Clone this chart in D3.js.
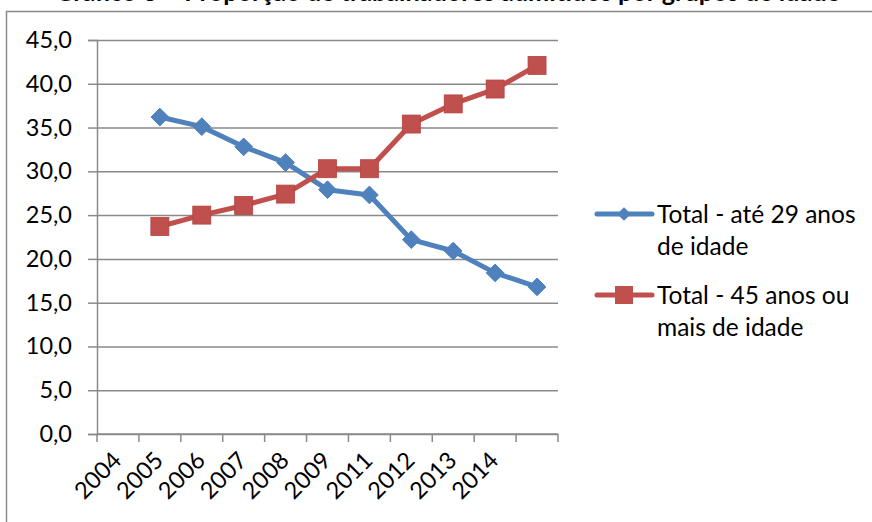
<!DOCTYPE html>
<html>
<head>
<meta charset="utf-8">
<script src="https://cdn.jsdelivr.net/npm/d3@7"></script>
<style>
  html, body { margin: 0; padding: 0; background: #fff; }
  svg { display: block; }
  text { font-family: Lato, "Noto Sans", sans-serif; fill: #000; }
</style>
</head>
<body>
<svg id="chart" width="872" height="522"></svg>
<script>
// ---- data ----
const categories = ["2004", "2005", "2006", "2007", "2008", "2009", "2011", "2012", "2013", "2014", ""];
const ate29 = [null, 36.2, 35.1, 32.8, 31.0, 27.9, 27.3, 22.2, 20.9, 18.4, 16.8];
const mais45 = [null, 23.7, 25.0, 26.1, 27.4, 30.3, 30.3, 35.4, 37.7, 39.4, 42.1];
const seriesNames = [["Total - até 29 anos", "de idade"], ["Total - 45 anos ou", "mais de idade"]];
const yTicks = [0, 5, 10, 15, 20, 25, 30, 35, 40, 45];
const title = "Gráfico 3 – Proporção de trabalhadores admitidos por grupos de idade";

// ---- layout ----
const svg = d3.select("#chart");
const W = 872, H = 522;
const plot = { left: 97, right: 558, top: 40, bottom: 434 };
const blue = "#4F81BD", red = "#C0504D", grid = "#8A8A8A";

// outer frame (chart area border)
svg.append("path")
  .attr("d", `M6.5,${H + 5} V11.5 H${W + 5}`)
  .attr("fill", "none").attr("stroke", grid).attr("stroke-width", 1.5);

// title (cut off at top, as in the reference)
svg.append("text")
  .attr("x", 55).attr("y", 1)
  .attr("font-weight", "bold").attr("font-size", 24)
  .attr("textLength", 785).attr("lengthAdjust", "spacingAndGlyphs")
  .text(title);

const x = d3.scaleBand().domain(categories.map((c, i) => i)).range([plot.left, plot.right]).padding(0);
const y = d3.scaleLinear().domain([0, 45]).range([plot.bottom, plot.top]);
const cx = i => x(i) + x.bandwidth() / 2;

// gridlines
const gridG = svg.append("g").attr("transform", `translate(${plot.left},0)`)
  .call(d3.axisLeft(y).tickValues(yTicks).tickSize(-(plot.right - plot.left)).tickFormat(""));
gridG.select(".domain").remove();
gridG.selectAll("line").attr("stroke", grid).attr("stroke-width", 1.5);

// y axis
const yAx = svg.append("g").attr("transform", `translate(${plot.left},0)`)
  .call(d3.axisLeft(y).tickValues(yTicks).tickSize(9).tickPadding(16)
    .tickFormat(d => d.toFixed(1).replace(".", ",")));
yAx.select(".domain").attr("stroke", grid).attr("stroke-width", 1.5);
yAx.selectAll("line").attr("stroke", grid).attr("stroke-width", 1.5);
yAx.selectAll("text").attr("font-size", 23.5).attr("font-family", "Lato").attr("fill", "#000");

// x axis
const xAx = svg.append("g");
xAx.append("line").attr("x1", plot.left).attr("x2", plot.right)
  .attr("y1", y(0)).attr("y2", y(0)).attr("stroke", grid).attr("stroke-width", 1.5);
const edges = categories.map((c, i) => x(i)).concat([x(categories.length - 1) + x.bandwidth()]);
xAx.selectAll("line.tick").data(edges).enter().append("line").attr("class", "tick")
  .attr("x1", d => d).attr("x2", d => d)
  .attr("y1", y(0)).attr("y2", y(0) + 8)
  .attr("stroke", grid).attr("stroke-width", 1.5);
xAx.selectAll("text").data(categories).enter().append("text")
  .attr("transform", (d, i) => `translate(${cx(i) - 1},${y(0) + 22}) rotate(-45)`)
  .attr("text-anchor", "end").attr("dy", "0.35em")
  .attr("font-size", 23.5)
  .text(d => d);

// lines
const lineGen = d3.line().defined(d => d.v !== null).x(d => cx(d.i)).y(d => y(d.v));
const toPts = arr => arr.map((v, i) => ({ i, v }));

function drawSeries(vals, color, marker) {
  svg.append("path").datum(toPts(vals))
    .attr("d", lineGen).attr("fill", "none")
    .attr("stroke", color).attr("stroke-width", 5).attr("stroke-linejoin", "round");
  const pts = toPts(vals).filter(d => d.v !== null);
  const g = svg.append("g");
  if (marker === "diamond") {
    g.selectAll("path").data(pts).enter().append("path")
      .attr("d", d3.symbol().type(d3.symbolDiamond2).size(200))
      .attr("transform", d => `translate(${cx(d.i)},${y(d.v)})`)
      .attr("fill", color).attr("stroke", color).attr("stroke-width", 1);
  } else {
    g.selectAll("rect").data(pts).enter().append("rect")
      .attr("x", d => cx(d.i) - 9).attr("y", d => y(d.v) - 9)
      .attr("width", 18).attr("height", 18)
      .attr("fill", color).attr("stroke", "#B5423F").attr("stroke-width", 0.8);
  }
}
drawSeries(ate29, blue, "diamond");
drawSeries(mais45, red, "square");

// legend
const legendItems = [
  { color: blue, marker: "diamond", y: 214, lines: seriesNames[0] },
  { color: red, marker: "square", y: 295, lines: seriesNames[1] }
];
legendItems.forEach(it => {
  const g = svg.append("g");
  g.append("line").attr("x1", 597).attr("x2", 652).attr("y1", it.y).attr("y2", it.y)
    .attr("stroke", it.color).attr("stroke-width", 5).attr("stroke-linecap", "round");
  if (it.marker === "diamond") {
    g.append("path").attr("d", d3.symbol().type(d3.symbolDiamond2).size(120))
      .attr("transform", `translate(624,${it.y})`).attr("fill", it.color);
  } else {
    g.append("rect").attr("x", 615).attr("y", it.y - 9).attr("width", 18).attr("height", 18)
      .attr("fill", it.color);
  }
  it.lines.forEach((t, k) => {
    g.append("text").attr("x", 657).attr("y", it.y + 9 + k * 32)
      .attr("font-size", 24.5).text(t);
  });
});
</script>
</body>
</html>
